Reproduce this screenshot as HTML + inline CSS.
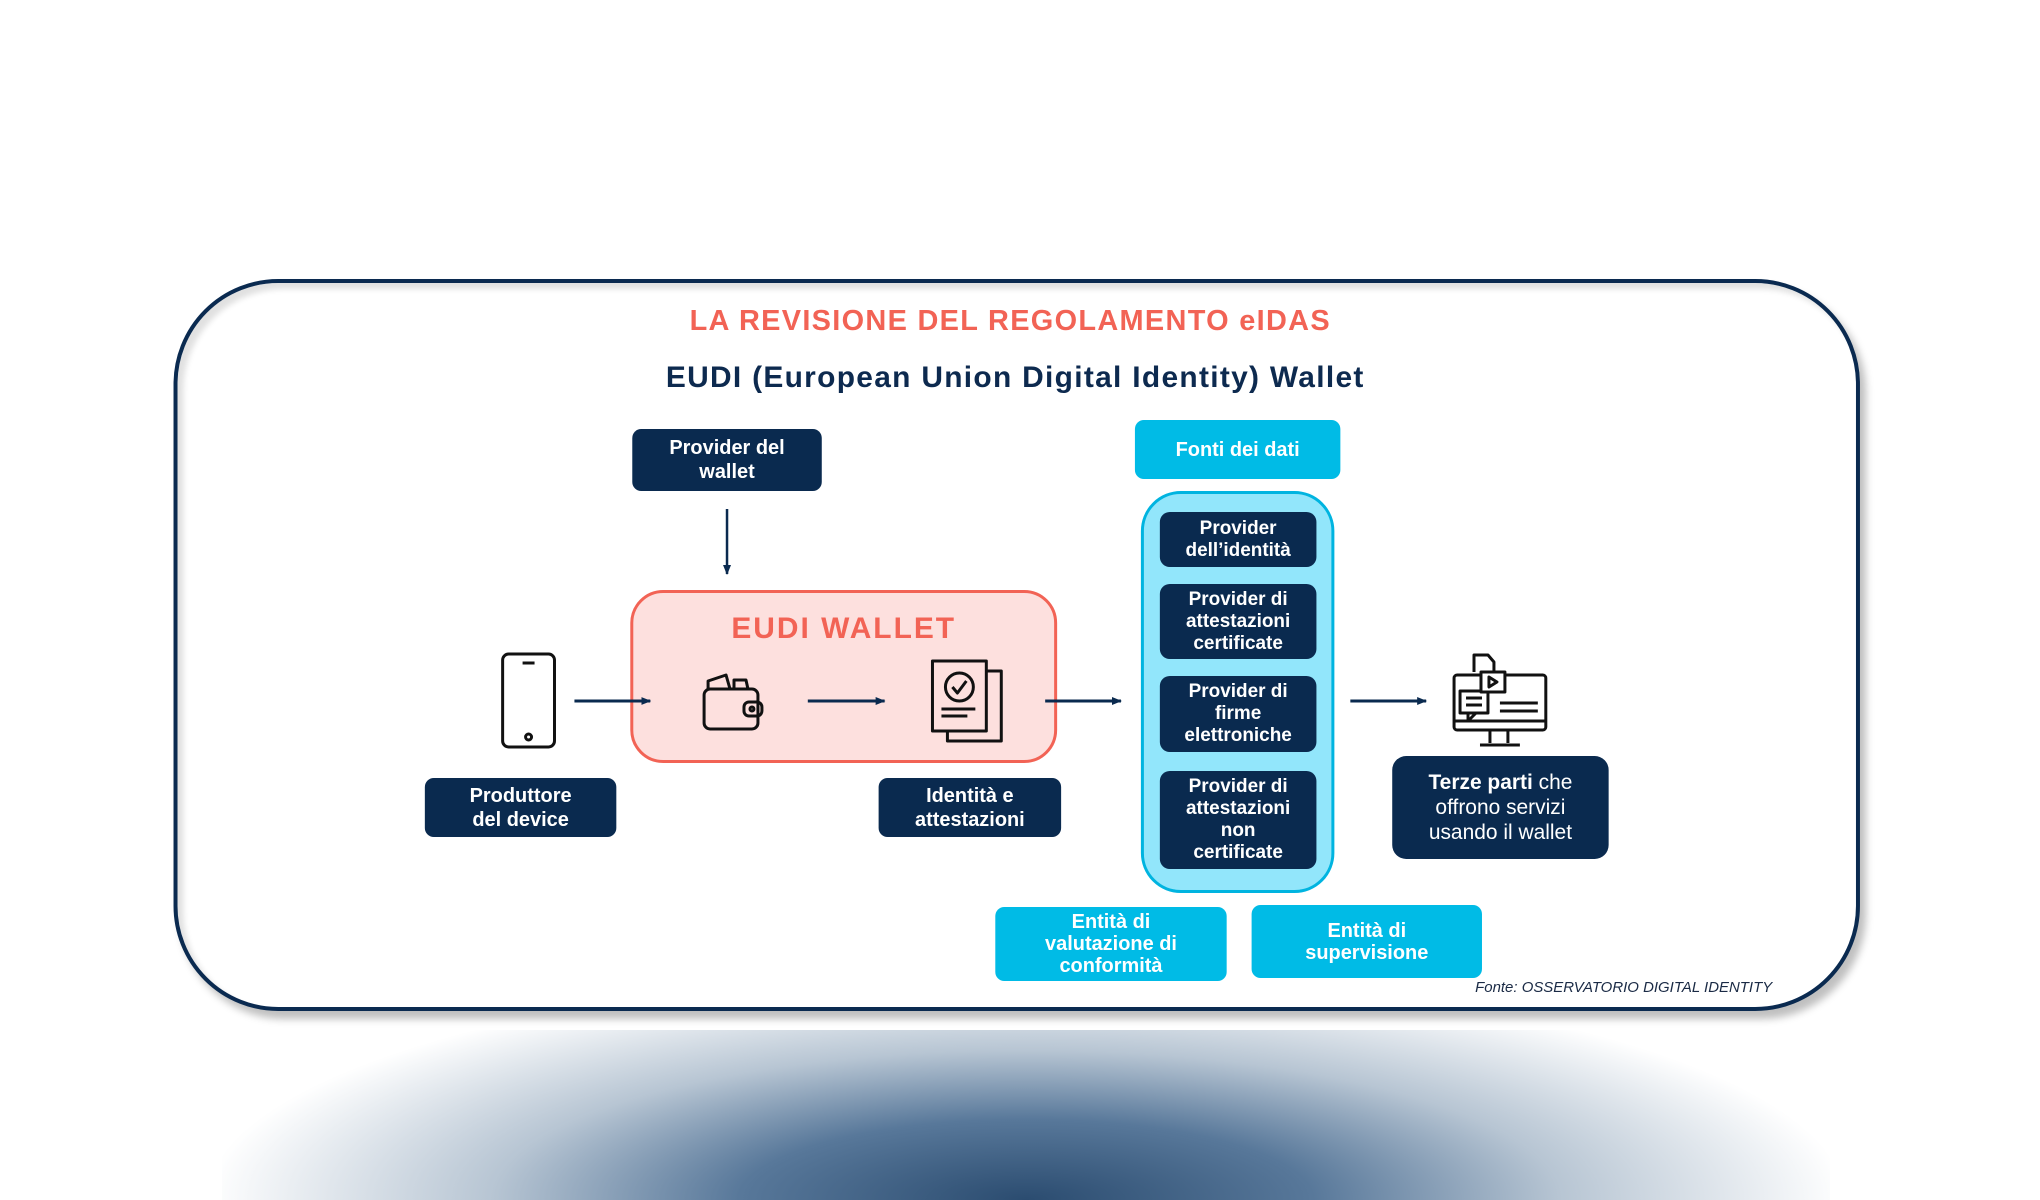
<!DOCTYPE html>
<html><head><meta charset="utf-8"><style>
html,body{margin:0;padding:0;}
body{width:2040px;height:1200px;position:relative;overflow:hidden;background:#fff;font-family:"Liberation Sans",sans-serif;}
#w{position:absolute;left:0;top:0;width:2040px;height:1200px;transform-origin:0 0;transform:translate(-2px,-1px) scale(0.9973,1);}
.a{position:absolute;box-sizing:border-box;}
.dk{background:#0a2a4f;color:#fff;font-weight:bold;display:flex;align-items:center;justify-content:center;text-align:center;border-radius:9px;font-size:20px;line-height:24px;}
.cy{background:#00bbe6;color:#fff;font-weight:bold;display:flex;align-items:center;justify-content:center;text-align:center;border-radius:9px;font-size:20px;line-height:22px;}
.in{font-size:19px;line-height:22px;border-radius:10px;}
</style></head><body>
<div class="a" style="left:222px;top:1030px;width:1608px;height:170px;background:radial-gradient(ellipse 820px 230px at 50% 100%,#2b4c70 0%,#58789a 35%,#b7c5d3 65%,rgba(255,255,255,0) 100%);"></div>
<div id="w">
<div class="a" style="left:176px;top:280px;width:1691px;height:732px;border:4px solid #0a2a50;border-radius:105px;box-shadow:6px 8px 8px rgba(0,0,0,0.25), inset 6px 6px 6px rgba(0,0,0,0.12);background:#fff;"></div>
<div class="a" style="left:0;width:2030px;top:306px;text-align:center;color:#f26355;font-weight:bold;font-size:29px;letter-spacing:1.3px;">LA REVISIONE DEL REGOLAMENTO eIDAS</div>
<div class="a" style="left:0;width:2040px;top:362px;text-align:center;color:#0d2a4f;font-weight:bold;font-size:30px;letter-spacing:1.3px;">EUDI (European Union Digital Identity) Wallet</div>

<div class="a dk" style="left:636px;top:430px;width:190px;height:62px;">Provider del<br>wallet</div>
<div class="a" style="left:634px;top:591px;width:428px;height:173px;background:#fde0de;border:3px solid #f26355;border-radius:33px;"></div>
<div class="a" style="left:634px;top:613px;width:428px;text-align:center;color:#f26355;font-weight:bold;font-size:30px;letter-spacing:2px;">EUDI WALLET</div>
<div class="a dk" style="left:428px;top:779px;width:192px;height:59px;">Produttore<br>del device</div>
<div class="a dk" style="left:883px;top:779px;width:183px;height:59px;">Identità e<br>attestazioni</div>

<div class="a cy" style="left:1140px;top:421px;width:206px;height:59px;">Fonti dei dati</div>
<div class="a" style="left:1146px;top:492px;width:194px;height:402px;background:#92e6fb;border:3px solid #00b4e0;border-radius:40px;"></div>
<div class="a dk in" style="left:1165px;top:513px;width:157px;height:55px;">Provider<br>dell’identità</div>
<div class="a dk in" style="left:1165px;top:585px;width:157px;height:75px;">Provider di<br>attestazioni<br>certificate</div>
<div class="a dk in" style="left:1165px;top:677px;width:157px;height:76px;">Provider di<br>firme<br>elettroniche</div>
<div class="a dk in" style="left:1165px;top:772px;width:157px;height:98px;">Provider di<br>attestazioni<br>non<br>certificate</div>
<div class="a dk" style="left:1398px;top:757px;width:217px;height:103px;font-weight:normal;font-size:21px;line-height:25px;border-radius:14px;"><span><b>Terze parti</b> che<br>offrono servizi<br>usando il wallet</span></div>
<div class="a cy" style="left:1000px;top:908px;width:232px;height:74px;">Entità di<br>valutazione di<br>conformità</div>
<div class="a cy" style="left:1257px;top:906px;width:231px;height:73px;">Entità di<br>supervisione</div>
<div class="a" style="left:1380px;width:399px;top:980px;text-align:right;font-style:italic;font-size:15px;color:#1a2a45;">Fonte: OSSERVATORIO DIGITAL IDENTITY</div>

<svg class="a" style="left:0;top:0" width="2040" height="1200">
<defs><marker id="m" markerUnits="userSpaceOnUse" markerWidth="10" markerHeight="10" refX="9" refY="5" orient="auto"><path d="M0,1 L10,5 L0,9 z" fill="#0a2a4f"/></marker></defs>
<g stroke="#0a2a4f" stroke-width="3" fill="none">
<line x1="731" y1="510" x2="731" y2="575" stroke-width="2.5" marker-end="url(#m)"/>
<line x1="578" y1="702" x2="654" y2="702" marker-end="url(#m)"/>
<line x1="812" y1="702" x2="889" y2="702" marker-end="url(#m)"/>
<line x1="1050" y1="702" x2="1126" y2="702" marker-end="url(#m)"/>
<line x1="1356" y1="702" x2="1432" y2="702" marker-end="url(#m)"/>
</g>
<g stroke="#111" stroke-width="3" fill="none" stroke-linejoin="round">
<rect x="506" y="655" width="52" height="93" rx="6"/>
<line x1="526" y1="664" x2="538" y2="664"/>
<circle cx="532" cy="738" r="3"/>
<rect x="708" y="690" width="54" height="40" rx="6"/>
<path d="M712,690 L712,682 L730,676 L734,690 M738,690 L738,681 L750,681 L752,690"/>
<rect x="748" y="703" width="18" height="14" rx="5"/>
<circle cx="756" cy="710" r="2"/>
<rect x="937" y="662" width="54" height="70" />
<path d="M991,672 L1006,672 L1006,742 L952,742 L952,732"/>
<circle cx="964" cy="688" r="14"/>
<path d="M957,688 L962,694 L971,682"/>
<line x1="946" y1="710" x2="980" y2="710"/><line x1="946" y1="717" x2="972" y2="717"/>
<rect x="1460" y="676" width="92" height="55" rx="3"/>
<line x1="1460" y1="722" x2="1552" y2="722"/>
<path d="M1496,731 L1496,744 M1514,731 L1514,744 M1486,746 L1526,746"/>
<rect x="1466" y="692" width="28" height="22" fill="#fff"/>
<path d="M1474,714 L1474,722 L1482,714"/>
<line x1="1472" y1="699" x2="1488" y2="699"/><line x1="1472" y1="706" x2="1488" y2="706"/>
<rect x="1487" y="673" width="24" height="20" fill="#fff"/>
<path d="M1495,678 L1503,683 L1495,688 z"/>
<path d="M1480,673 L1480,656 L1494,656 L1500,663 L1500,673"/>
<line x1="1506" y1="704" x2="1544" y2="704"/><line x1="1506" y1="712" x2="1544" y2="712"/>
</g>
</svg>
</div>
</body></html>
